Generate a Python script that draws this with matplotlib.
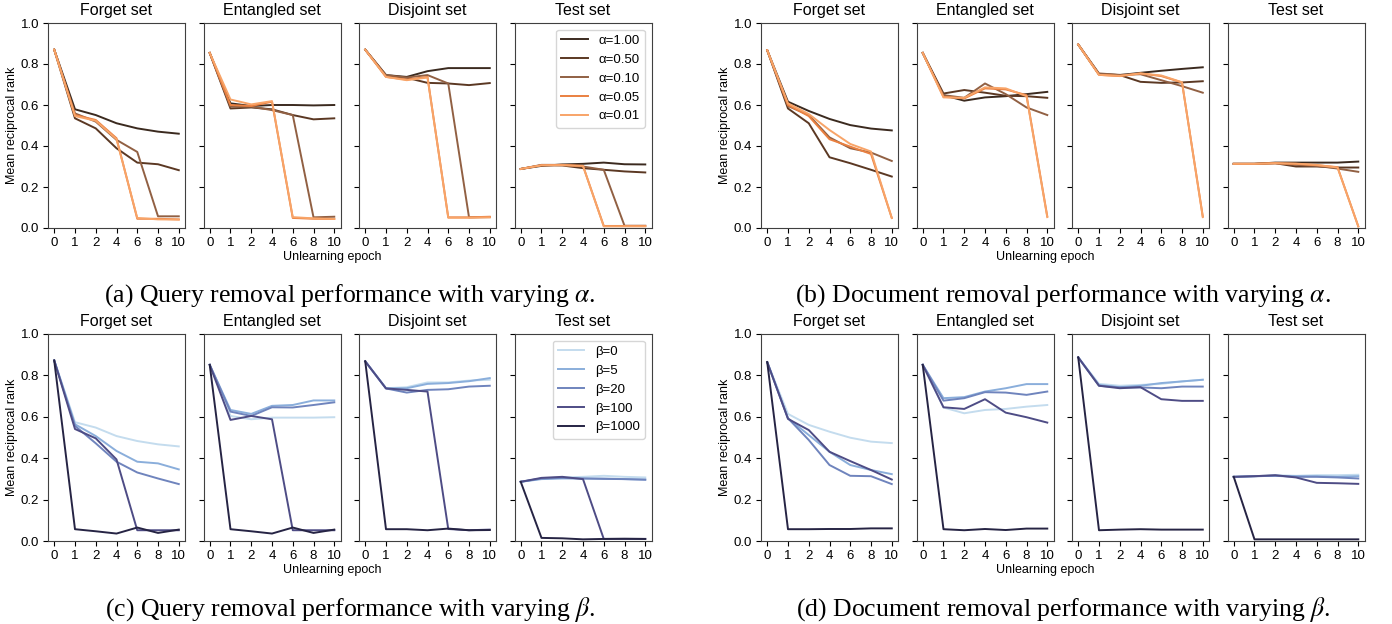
import numpy as np
import matplotlib.pyplot as plt

plt.rcParams['font.family'] = ['Liberation Sans', 'DejaVu Sans']
plt.rcParams['mathtext.fontset'] = 'stix'

epochs = ['0', '1', '2', '4', '6', '8', '10']
set_names = ['Forget set', 'Entangled set', 'Disjoint set', 'Test set']
alpha_labels = ['α=1.00', 'α=0.50', 'α=0.10', 'α=0.05', 'α=0.01']
beta_labels = ['β=0', 'β=5', 'β=20', 'β=100', 'β=1000']
alpha_colors = ['#3b2a1f', '#5b3823', '#916043', '#ea8040', '#f8a468']
beta_colors = ['#c4dcee', '#8aaedb', '#6f84bd', '#4e4c85', '#262444']

# (a) query removal, varying alpha  -- one row per alpha
qa_forget = [[0.87, 0.579, 0.551, 0.511, 0.486, 0.470, 0.460],
             [0.87, 0.535, 0.486, 0.389, 0.319, 0.311, 0.282],
             [0.87, 0.559, 0.519, 0.430, 0.371, 0.057, 0.057],
             [0.87, 0.551, 0.527, 0.438, 0.045, 0.045, 0.042],
             [0.87, 0.546, 0.523, 0.433, 0.049, 0.042, 0.041]]
qa_entangled = [[0.854, 0.608, 0.595, 0.600, 0.600, 0.598, 0.600],
                [0.854, 0.583, 0.588, 0.579, 0.551, 0.530, 0.535],
                [0.854, 0.592, 0.592, 0.575, 0.551, 0.052, 0.055],
                [0.854, 0.600, 0.595, 0.616, 0.049, 0.045, 0.044],
                [0.854, 0.627, 0.603, 0.619, 0.053, 0.047, 0.044]]
qa_disjoint = [[0.87, 0.746, 0.737, 0.765, 0.780, 0.780, 0.780],
               [0.87, 0.741, 0.733, 0.708, 0.705, 0.697, 0.707],
               [0.87, 0.746, 0.734, 0.746, 0.705, 0.052, 0.053],
               [0.87, 0.737, 0.724, 0.737, 0.052, 0.052, 0.055],
               [0.87, 0.737, 0.721, 0.734, 0.050, 0.050, 0.052]]
qa_test = [[0.288, 0.303, 0.310, 0.313, 0.319, 0.311, 0.310],
           [0.288, 0.306, 0.305, 0.292, 0.284, 0.276, 0.271],
           [0.288, 0.308, 0.308, 0.300, 0.284, 0.011, 0.011],
           [0.288, 0.306, 0.308, 0.303, 0.010, 0.010, 0.010],
           [0.288, 0.306, 0.306, 0.303, 0.008, 0.008, 0.008]]

# (b) document removal, varying alpha
da_forget = [[0.867, 0.616, 0.571, 0.532, 0.502, 0.485, 0.476],
             [0.867, 0.583, 0.511, 0.345, 0.316, 0.284, 0.251],
             [0.867, 0.595, 0.551, 0.442, 0.389, 0.368, 0.327],
             [0.867, 0.600, 0.546, 0.433, 0.397, 0.361, 0.049],
             [0.867, 0.608, 0.556, 0.478, 0.410, 0.373, 0.049]]
da_entangled = [[0.854, 0.648, 0.621, 0.637, 0.643, 0.653, 0.664],
                [0.854, 0.656, 0.673, 0.660, 0.645, 0.643, 0.635],
                [0.854, 0.648, 0.635, 0.705, 0.653, 0.588, 0.551],
                [0.854, 0.640, 0.632, 0.681, 0.676, 0.648, 0.057],
                [0.854, 0.637, 0.635, 0.686, 0.681, 0.643, 0.053]]
da_disjoint = [[0.895, 0.750, 0.746, 0.757, 0.767, 0.776, 0.784],
               [0.895, 0.750, 0.746, 0.713, 0.708, 0.710, 0.716],
               [0.895, 0.754, 0.747, 0.750, 0.721, 0.692, 0.660],
               [0.895, 0.747, 0.741, 0.754, 0.741, 0.710, 0.057],
               [0.895, 0.747, 0.742, 0.754, 0.744, 0.711, 0.053]]
da_test = [[0.313, 0.313, 0.319, 0.319, 0.319, 0.319, 0.324],
           [0.313, 0.313, 0.316, 0.300, 0.300, 0.295, 0.295],
           [0.313, 0.313, 0.316, 0.308, 0.303, 0.290, 0.274],
           [0.313, 0.313, 0.316, 0.313, 0.306, 0.297, 0.008],
           [0.313, 0.313, 0.316, 0.314, 0.308, 0.295, 0.008]]

# (c) query removal, varying beta
qb_forget = [[0.872, 0.574, 0.548, 0.507, 0.483, 0.467, 0.457],
             [0.872, 0.564, 0.507, 0.435, 0.383, 0.375, 0.346],
             [0.872, 0.556, 0.472, 0.383, 0.331, 0.302, 0.275],
             [0.872, 0.541, 0.496, 0.394, 0.052, 0.052, 0.052],
             [0.872, 0.057, 0.047, 0.036, 0.065, 0.039, 0.055]]
qb_entangled = [[0.851, 0.604, 0.588, 0.596, 0.596, 0.596, 0.598],
                [0.851, 0.633, 0.614, 0.653, 0.657, 0.679, 0.679],
                [0.851, 0.625, 0.604, 0.646, 0.645, 0.657, 0.670],
                [0.851, 0.585, 0.604, 0.588, 0.052, 0.052, 0.052],
                [0.851, 0.057, 0.047, 0.036, 0.065, 0.039, 0.055]]
qb_disjoint = [[0.868, 0.738, 0.743, 0.766, 0.766, 0.775, 0.779],
               [0.868, 0.738, 0.738, 0.759, 0.763, 0.772, 0.787],
               [0.868, 0.737, 0.717, 0.730, 0.733, 0.746, 0.750],
               [0.868, 0.737, 0.730, 0.722, 0.058, 0.052, 0.055],
               [0.868, 0.057, 0.057, 0.052, 0.060, 0.052, 0.053]]
qb_test = [[0.286, 0.302, 0.307, 0.310, 0.315, 0.310, 0.307],
           [0.286, 0.299, 0.302, 0.302, 0.302, 0.299, 0.297],
           [0.286, 0.302, 0.305, 0.302, 0.300, 0.299, 0.296],
           [0.286, 0.305, 0.310, 0.299, 0.010, 0.010, 0.010],
           [0.286, 0.015, 0.013, 0.008, 0.010, 0.011, 0.010]]

# (d) document removal, varying beta
db_forget = [[0.864, 0.614, 0.561, 0.528, 0.499, 0.480, 0.473],
             [0.864, 0.593, 0.512, 0.431, 0.367, 0.343, 0.323],
             [0.864, 0.593, 0.488, 0.367, 0.315, 0.313, 0.275],
             [0.864, 0.590, 0.536, 0.431, 0.386, 0.343, 0.297],
             [0.864, 0.057, 0.057, 0.058, 0.058, 0.061, 0.061]]
db_entangled = [[0.851, 0.645, 0.617, 0.633, 0.638, 0.649, 0.657],
                [0.851, 0.690, 0.695, 0.722, 0.738, 0.758, 0.758],
                [0.851, 0.678, 0.690, 0.719, 0.717, 0.706, 0.722],
                [0.851, 0.646, 0.638, 0.685, 0.620, 0.598, 0.572],
                [0.851, 0.057, 0.052, 0.058, 0.053, 0.060, 0.060]]
db_disjoint = [[0.887, 0.759, 0.750, 0.754, 0.759, 0.771, 0.779],
               [0.887, 0.754, 0.743, 0.750, 0.763, 0.771, 0.779],
               [0.887, 0.750, 0.742, 0.742, 0.738, 0.746, 0.746],
               [0.887, 0.750, 0.738, 0.743, 0.685, 0.677, 0.677],
               [0.887, 0.052, 0.055, 0.057, 0.055, 0.055, 0.055]]
db_test = [[0.310, 0.313, 0.318, 0.315, 0.318, 0.318, 0.320],
           [0.310, 0.313, 0.315, 0.313, 0.313, 0.310, 0.313],
           [0.310, 0.313, 0.315, 0.310, 0.310, 0.307, 0.302],
           [0.310, 0.313, 0.318, 0.307, 0.281, 0.279, 0.276],
           [0.310, 0.008, 0.008, 0.008, 0.008, 0.008, 0.008]]

W, H = 1392, 624
fig = plt.figure(figsize=(W / 100, H / 100), dpi=100)


def px_box(x0, y0, x1, y1):
    return [x0 / W, 1 - y1 / H, (x1 - x0) / W, (y1 - y0) / H]


panels = [
    (48, 23, 228, [qa_forget, qa_entangled, qa_disjoint, qa_test], alpha_labels, alpha_colors,
     r'(a) Query removal performance with varying $\alpha$.'),
    (761, 23, 228, [da_forget, da_entangled, da_disjoint, da_test], alpha_labels, alpha_colors,
     r'(b) Document removal performance with varying $\alpha$.'),
    (48, 334, 541, [qb_forget, qb_entangled, qb_disjoint, qb_test], beta_labels, beta_colors,
     r'(c) Query removal performance with varying $\beta$.'),
    (761, 334, 541, [db_forget, db_entangled, db_disjoint, db_test], beta_labels, beta_colors,
     r'(d) Document removal performance with varying $\beta$.'),
]

x = np.arange(len(epochs))
for left, top, bottom, data, labels, colors, caption in panels:
    for j, name in enumerate(set_names):
        x0 = left + j * 155.5
        ax = fig.add_axes(px_box(x0, top, x0 + 137, bottom))
        for k, series in enumerate(data[j]):
            ax.plot(x, series, color=colors[k], lw=1.4, label=labels[k])
        ax.set_ylim(0, 1)
        ax.set_xticks(x)
        ax.set_xticklabels(epochs)
        ax.set_yticks([0, 0.2, 0.4, 0.6, 0.8, 1.0])
        ax.tick_params(labelsize=9.5, pad=3)
        ax.set_title(name, fontsize=11.5)
        for s in ax.spines.values():
            s.set_color('0.25')
        if j == 0:
            ax.set_ylabel('Mean reciprocal rank', fontsize=9, labelpad=2)
        else:
            ax.set_yticklabels([])
        if j == 3 and left == 48:
            ax.legend(loc='upper right', fontsize=9.5)
    # shared x label and caption
    cx = left + 284
    fig.text(cx / W, 1 - (bottom + 29) / H, 'Unlearning epoch', ha='center', va='center', fontsize=9)
    fig.text((left + 302) / W, 1 - (bottom + 68) / H, caption, ha='center', va='center',
             fontsize=18.5, family='Liberation Serif')

fig.savefig('out.png', dpi=100)
